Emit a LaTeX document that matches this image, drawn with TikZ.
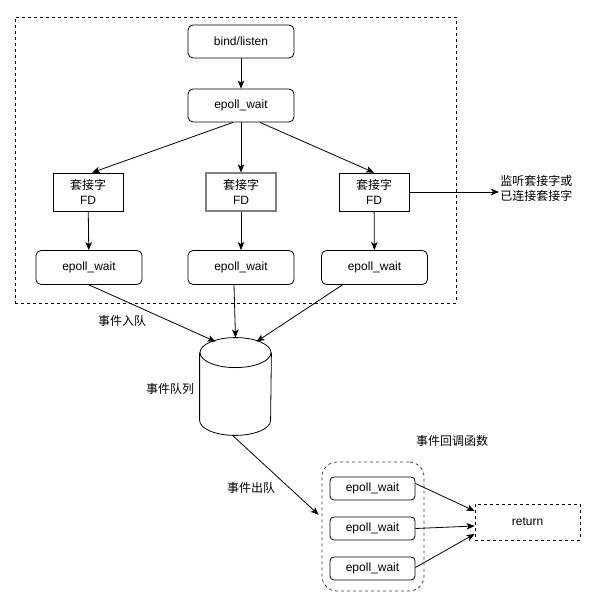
\documentclass[tikz,border=0pt]{standalone}
\usepackage{fontspec}
\setmainfont{Liberation Sans}
\newfontfamily\cjk{Noto Sans CJK SC}
\definecolor{framegray}{RGB}{60, 60, 60}
\usepackage{tikz}
\usetikzlibrary{shapes, arrows.meta, positioning, calc}

\begin{document}
\begin{tikzpicture}[x=1pt, y=-1pt, font=\fontsize{12}{15}\selectfont, line width=0.8pt,
    >={Stealth[length=8pt, width=6.5pt, inset=2pt]},
    proc/.style={draw, rounded corners=5pt, minimum width=106pt, minimum height=34pt, inner sep=0pt},
    sock/.style={draw, minimum width=70pt, minimum height=38pt, inner sep=0pt, align=center},
    cb/.style={draw, rounded corners=4pt, minimum width=85pt, minimum height=23pt, inner sep=0pt},
    note/.style={inner sep=1pt, align=left, font=\fontsize{12}{15}\cjk}]
  \useasboundingbox (0,0) rectangle (605,604);

  % listening side
  \node[draw, dashed, minimum width=441pt, minimum height=286pt] (zone) at (235.5,160) {};
  \node[proc, minimum height=33pt] (bind) at (241,41.5) {bind/listen};
  \node[proc, minimum height=33pt] (ewait) at (241,105.5) {epoll\_wait};

  \node[sock] (fd1) at (88,192) {{\cjk 套接字}\\FD};
  \node[sock, draw=gray, line width=1.2pt] (fd2) at (241,192) {{\cjk 套接字}\\FD};
  \node[sock] (fd3) at (374,192) {{\cjk 套接字}\\FD};

  \node[proc] (lw1) at (89,267.5) {epoll\_wait};
  \node[proc] (lw2) at (241,267.5) {epoll\_wait};
  \node[proc] (lw3) at (374.5,267.5) {epoll\_wait};

  \node[note, anchor=west] (kind) at (499,188) {监听套接字或\\已连接套接字};

  \draw[->] (bind) -- (ewait);
  \draw[->] ($(ewait.south)+(-8,0)$) -- ($(fd1.north)+(4,0)$);
  \draw[->] (ewait.south) -- (fd2.north);
  \draw[->] ($(ewait.south)+(19,0)$) -- (fd3.north);
  \draw[->] (fd1) -- (lw1);
  \draw[->] (fd2) -- (lw2);
  \draw[->] (fd3) -- (lw3);
  \draw[->] (fd3.east) -- (fd3.east -| kind.west);

  % event queue
  \node[minimum width=71pt, minimum height=97pt, inner sep=0pt] (queue) at (235.5,386.5) {};
  \draw ($(queue.north)+(0,15)$) ellipse [x radius=35.5, y radius=15];
  \draw ($(queue.north west)+(0,15)$) -- ($(queue.south west)+(0,-15)$)
    arc[start angle=180, end angle=0, x radius=35.5, y radius=15] -- ($(queue.north east)+(0,15)$);
  \node[note] (enq) at (122,321) {事件入队};
  \node[note] (qlab) at (170,389) {事件队列};
  \node[note] (deq) at (251,488) {事件出队};

  \draw[->] (lw1.south) -- ($(queue.north)+(-20,4)$);
  \draw[->] ($(lw2.south)+(-7,0)$) -- (queue.north);
  \draw[->] ($(lw3.south)+(-32,0)$) -- ($(queue.north)+(21,4)$);

  % callbacks
  \node[draw=framegray, dashed, rounded corners=15pt, minimum width=102pt, minimum height=129pt] (grp) at (373,526.5) {};
  \node[note] (cblab) at (452,441) {事件回调函数};
  \node[cb] (w1) at (372.5,488.5) {epoll\_wait};
  \node[cb] (w2) at (372.5,528.5) {epoll\_wait};
  \node[cb] (w3) at (372.5,568.5) {epoll\_wait};
  \node[draw, dashed, minimum width=105pt, minimum height=36pt] (ret) at (527.5,522) {return};

  \draw[->, shorten >=4pt] ($(queue.south)+(-3,0)$) -- ($(grp.west)+(0,-9)$);
  \draw[->] ($(w1.east)+(0,-5)$) -- ($(ret.west)+(0,-11)$);
  \draw[->] (w2.east) -- ($(ret.west)+(0,4)$);
  \draw[->] ($(w3.east)+(0,-1)$) -- ($(ret.west)+(0,12)$);
\end{tikzpicture}
\end{document}
